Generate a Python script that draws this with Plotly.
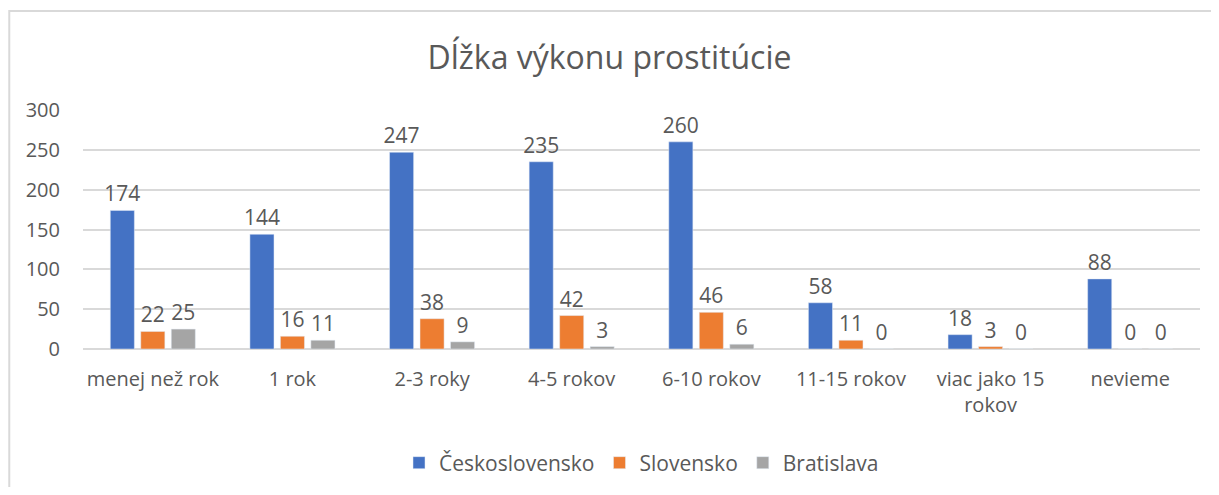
import plotly.graph_objects as go

categories = ["menej než rok", "1 rok", "2-3 roky", "4-5 rokov", "6-10 rokov",
              "11-15 rokov", "viac jako 15<br>rokov", "nevieme"]
ceskoslovensko = [174, 144, 247, 235, 260, 58, 18, 88]
slovensko = [22, 16, 38, 42, 46, 11, 3, 0]
bratislava = [25, 11, 9, 3, 6, 0, 0, 0]

series = [("Československo", ceskoslovensko, "#4472C4"),
          ("Slovensko", slovensko, "#ED7D31"),
          ("Bratislava", bratislava, "#A5A5A5")]

font = "Open Sans, Noto Sans, sans-serif"
gray = "#595959"

fig = go.Figure()
for name, vals, color in series:
    fig.add_trace(go.Bar(x=categories, y=vals, name=name, marker_color=color,
                         text=vals, textposition="outside", cliponaxis=False,
                         constraintext="none",
                         textfont=dict(size=21, color=gray, family=font)))

# chart border like the Excel chart area
fig.add_shape(type="rect", xref="paper", yref="paper",
              x0=-0.066, x1=1.03, y0=-0.7, y1=1.414,
              line=dict(color="#d9d9d9", width=2), layer="below")

# page body adds an 8px margin, so the figure is sized to fit inside it
fig.update_layout(
    width=1203, height=479,
    paper_bgcolor="white", plot_bgcolor="white",
    font=dict(family=font, color=gray, size=20),
    title=dict(text="Dĺžka výkonu prostitúcie", x=0.5, xanchor="center",
               y=0.896, yanchor="middle",
               font=dict(size=32, color=gray, family=font)),
    barmode="group", bargap=0.345, bargroupgap=0.21,
    xaxis=dict(showline=False, ticks="", ticklabelstandoff=16,
               tickfont=dict(size=20, color=gray)),
    yaxis=dict(range=[0, 300], dtick=50, showgrid=True, gridcolor="#d9d9d9",
               gridwidth=1.5, zeroline=True, zerolinecolor="#d9d9d9",
               zerolinewidth=1.5, ticks="", ticklabelstandoff=22,
               tickfont=dict(size=20, color=gray)),
    legend=dict(orientation="h", x=0.5, xanchor="center", y=-0.477,
                yanchor="middle", font=dict(size=21, color=gray),
                itemwidth=30, traceorder="normal"),
    margin=dict(l=75, r=11, t=102, b=138, autoexpand=False),
    showlegend=True,
)

fig.write_html("out.html")
